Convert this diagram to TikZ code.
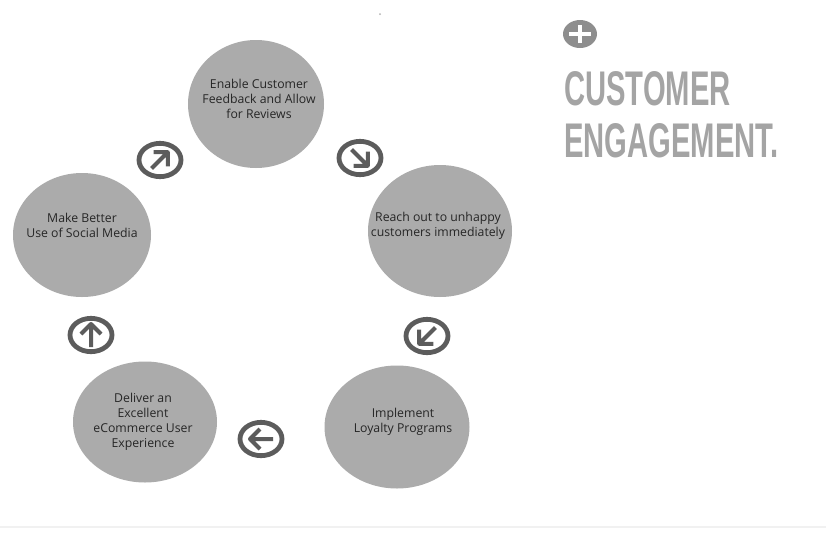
\documentclass[tikz,border=0pt]{standalone}
\usepackage{fontspec}
\setmainfont{Open Sans}
\newfontfamily\titlefont{Liberation Sans}
\usetikzlibrary{shapes.geometric}

\definecolor{bubblefill}{HTML}{ABABAB}
\definecolor{icongray}{HTML}{5C5C5C}
\definecolor{labelink}{HTML}{262626}
\definecolor{headgray}{HTML}{A4A4A4}
\definecolor{plusgray}{HTML}{8E8E8E}
\definecolor{rulegray}{HTML}{F1F1F1}

% ring icon with an arrow pointing at the given angle
\newcommand\ringarrow[3]{%
  \node[ringicon] (#1) at (#2) {};
  \draw[glyph, shift={(#1.center)}, rotate=#3] (-12,0) -- (11,0) (1,-10) -- (11,0) -- (1,10);
}

\begin{document}
\begin{tikzpicture}[x=0.75pt,y=-0.75pt,
  bubble/.style={ellipse, fill=bubblefill, inner sep=0pt},
  caption/.style={align=center, text=labelink, inner sep=0pt,
    font=\fontsize{9.2}{11.4}\selectfont},
  ringicon/.style={ellipse, draw=icongray, line width=3.6pt,
    minimum width=31.5pt, minimum height=25pt, inner sep=0pt},
  glyph/.style={draw=icongray, line width=3pt, line join=round},
  heading/.style={anchor=base west, inner sep=0pt, text=headgray,
    font=\titlefont\bfseries\fontsize{36.5}{36.5}\selectfont}]

\fill[white] (0,0) rectangle (826,533);
\useasboundingbox (0,0) rectangle (826,533);

% faint rule along the bottom and a speck near the top
\draw[rulegray, line width=2.2pt] (0,527) -- (826,527);
\fill[gray!60] (380,14) circle[radius=1];

% the five steps of the cycle
\node[bubble, minimum width=102pt, minimum height=96pt] (feedback) at (256,104) {};
\node[bubble, minimum width=108pt, minimum height=99pt] (reach) at (440,231) {};
\node[bubble, minimum width=108.75pt, minimum height=92.25pt] (loyalty) at (397,427) {};
\node[bubble, minimum width=108pt, minimum height=90.75pt] (deliver) at (145,422) {};
\node[bubble, minimum width=103.5pt, minimum height=93pt] (social) at (82,235) {};

\node[caption] (feedbacktext) at (259,99) {Enable Customer\\Feedback and Allow\\for Reviews};
\node[caption] (reachtext) at (438,226) {Reach out to unhappy\\customers immediately};
\node[caption] (loyaltytext) at (403,422) {Implement\\Loyalty Programs};
\node[caption] (delivertext) at (143,422) {Deliver an\\Excellent\\eCommerce User\\Experience};
\node[caption] (socialtext) at (82,225) {Make Better\\Use of Social Media};

% direction markers between the steps
\ringarrow{toreach}{360,158}{-45}
\ringarrow{toloyalty}{427,336}{-135}
\ringarrow{todeliver}{261,439}{180}
\ringarrow{tosocial}{91,335}{90}
\ringarrow{tofeedback}{160,160}{45}

% heading
\node[ellipse, fill=plusgray, minimum width=25.5pt, minimum height=21pt, inner sep=0pt] (plus) at (580,34) {};
\draw[white, line width=3pt] ([xshift=-8pt]plus.center) -- ([xshift=8pt]plus.center)
  ([yshift=-7pt]plus.center) -- ([yshift=7pt]plus.center);
\node[heading] (headone) at (564,105) {\scalebox{0.6}[1]{CUSTOMER}};
\node[heading] (headtwo) at (564,157) {\scalebox{0.6}[1]{ENGAGEMENT.}};
\end{tikzpicture}
\end{document}
